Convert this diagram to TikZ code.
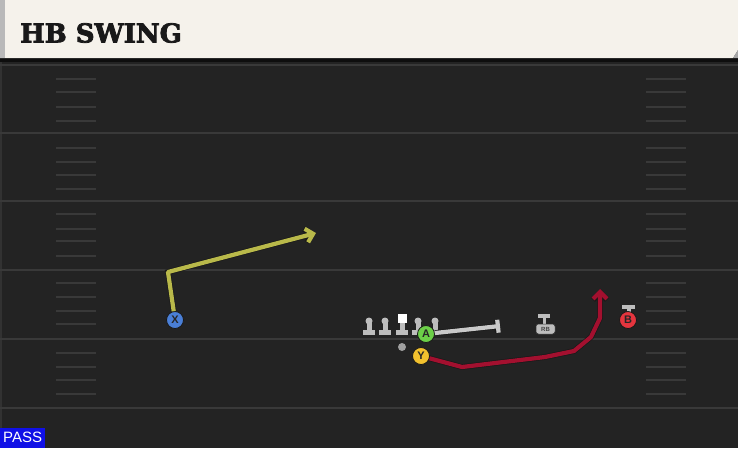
\documentclass[tikz,border=0pt]{standalone}
\usepackage{fontspec}
\setsansfont{Liberation Sans}
\newfontfamily\titlefont[BoldFeatures={FakeBold=3}]{DejaVu Serif}
\usepackage{xcolor}
\usetikzlibrary{arrows.meta}
\definecolor{fieldbg}{HTML}{232323}
\definecolor{fieldline}{HTML}{393939}
\definecolor{cream}{HTML}{F5F2EB}
\definecolor{xblue}{HTML}{4A7FD6}
\definecolor{agreen}{HTML}{6CCF48}
\definecolor{yyellow}{HTML}{F2C12E}
\definecolor{bred}{HTML}{E5353E}
\definecolor{olive}{HTML}{B9B94A}
\definecolor{crimson}{HTML}{A3102F}
\definecolor{blockgrey}{HTML}{C9C9C9}
\definecolor{olgrey}{HTML}{BDBDBD}
\definecolor{passblue}{HTML}{1010E6}

\begin{document}
\begin{tikzpicture}[x=1pt,y=-1pt,
    player/.style={circle, draw=black!90, line width=0.8pt, minimum size=17pt, inner sep=0pt,
      font=\sffamily\bfseries\fontsize{11}{11}\selectfont, text=black!85},
    lineman/.style={circle, fill=olgrey, minimum size=7pt, inner sep=0pt},
    route/.style={line width=4.2pt, line join=round, preaction={draw=black!90, line width=5.6pt}},
    routetip/.style={-{Straight Barb[length=7pt,width=14pt]}}]
    \useasboundingbox (0,0) rectangle (738,448);
    % field
    \fill[fieldbg] (0,0) rectangle (738,448);
    \fill[black!60!fieldbg] (0,58) rectangle (738,62);
    \fill[fieldline!70!fieldbg] (0,62) rectangle (2,448);
    \foreach \yy in {65,133,201,270,339,408}
        \draw[fieldline, line width=2pt] (0,\yy) -- (738,\yy);
    \foreach \yy in {79,92,107,121,148,162,175,189,214,229,241,256,283,297,311,324,353,367,380,394} {
        \draw[fieldline, line width=1.3pt] (56,\yy) -- (96,\yy);
        \draw[fieldline, line width=1.3pt] (646,\yy) -- (686,\yy);
    }
    % title bar
    \fill[cream] (0,0) -- (738,0) -- (738,50) -- (733,58) -- (0,58) -- cycle;
    \fill[gray!70] (738,50) -- (738,58) -- (733,58) -- cycle;
    \fill[gray!55] (0,0) rectangle (5,58);
    \node[anchor=west, inner sep=0pt, text=black!90, font=\titlefont\bfseries\fontsize{26}{26}\selectfont] (title) at (20,33) {HB SWING};
    % play type
    \node[anchor=south west, fill=passblue, text=white, inner xsep=3pt, inner ysep=2pt,
      minimum width=45pt, minimum height=20pt, font=\sffamily\fontsize{15}{15}\selectfont] (playtype) at (0,448) {PASS};

    % offensive line
    \fill[olgrey] (366.5,321) rectangle (371.5,331);
    \fill[olgrey] (363,330) rectangle (375,335);
    \node[lineman] (lt) at (369,321) {};
    \fill[olgrey] (382.5,321) rectangle (387.5,331);
    \fill[olgrey] (379,330) rectangle (391,335);
    \node[lineman] (lg) at (385,321) {};
    \fill[olgrey] (399.5,321) rectangle (404.5,331);
    \fill[olgrey] (396,330) rectangle (408,335);
    \node[fill=white, minimum size=9pt, inner sep=0pt] (c) at (402,318.5) {};
    \fill[olgrey] (415.5,321) rectangle (420.5,331);
    \fill[olgrey] (412,330) rectangle (424,335);
    \node[lineman] (rg) at (418,321) {};
    \fill[olgrey] (432.5,321) rectangle (437.5,331);
    \fill[olgrey] (429,330) rectangle (441,335);
    \node[lineman] (rt) at (435,321) {};
    \node[circle, fill=gray!75, minimum size=8pt, inner sep=0pt] (qb) at (402,347) {};

    % running back
    \fill[olgrey] (538,314) rectangle (550,318);
    \fill[olgrey] (542.5,318) rectangle (545.5,325);
    \node[rectangle, rounded corners=2.5pt, fill=olgrey, draw=black!80, line width=0.5pt,
      minimum width=19pt, minimum height=10pt, inner sep=0pt,
      font=\sffamily\bfseries\fontsize{6}{6}\selectfont, text=black!75] (rb) at (545.5,329) {RB};

    % receivers
    \fill[olgrey] (622,305) rectangle (635,309);
    \fill[olgrey] (626.5,309) rectangle (630.5,313);
    \node[player, fill=xblue] (X) at (175,320) {X};
    \node[player, fill=agreen] (A) at (426,334) {A};
    \node[player, fill=yyellow] (Y) at (421,356) {Y};
    \node[player, fill=bred] (B) at (628,320) {B};

    % routes
    \coordinate (xbreak) at (168,272);
    \coordinate (xend) at (316,233);
    \draw[route, olive, routetip] (X) -- (xbreak) -- (xend);
    \coordinate (aend) at (500,326);
    \draw[route, blockgrey, -{Bar[width=13pt]}] (A) -- (aend);
    \coordinate (y1) at (462,367);
    \coordinate (y2) at (545,357);
    \coordinate (y3) at (574,351);
    \coordinate (y4) at (591,337);
    \coordinate (y5) at (600,318);
    \coordinate (yend) at (600,289);
    \draw[route, crimson, routetip] (Y) -- (y1) -- (y2) -- (y3) -- (y4) -- (y5) -- (yend);
\end{tikzpicture}
\end{document}
